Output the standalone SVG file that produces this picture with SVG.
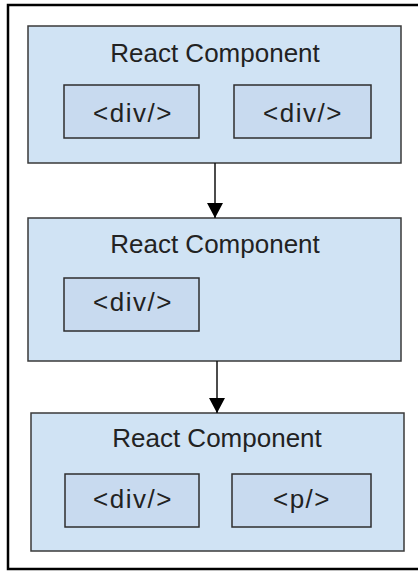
<svg xmlns="http://www.w3.org/2000/svg" width="418" height="571" viewBox="0 0 418 571">
<style>
.comp{fill:#d0e3f4;stroke:#3a3a3a;stroke-width:1.5}
.el{fill:#c8daef;stroke:#2e2e2e;stroke-width:1.5}
.title{font-family:"Liberation Sans",Arial,sans-serif;font-size:26px;fill:#222;text-anchor:middle}
.lbl{font-family:"Liberation Sans",Arial,sans-serif;font-size:26px;fill:#222;text-anchor:middle;letter-spacing:1.5px}
.conn{stroke:#111;stroke-width:1.5;fill:none}
</style>
<defs>
<marker id="ah" viewBox="0 0 15 16" refX="15" refY="8" markerWidth="15" markerHeight="16" markerUnits="userSpaceOnUse" orient="auto">
<path d="M0,0 L15,8 L0,16 Z" fill="#000"/>
</marker>
</defs>
<rect x="0" y="0" width="418" height="571" fill="#fff"/>
<path d="M430,5 L8,5 L8,569 L430,569" fill="none" stroke="#000" stroke-width="2.5"/>
<g id="comp1">
<rect class="comp" x="28" y="26" width="373" height="137"/>
<text class="title" x="215" y="62">React Component</text>
<g id="comp1-div1"><rect class="el" x="64" y="85" width="135" height="53"/><text class="lbl" x="133" y="122">&lt;div/&gt;</text></g>
<g id="comp1-div2"><rect class="el" x="234" y="85" width="137" height="53"/><text class="lbl" x="303" y="122">&lt;div/&gt;</text></g>
</g>
<g id="comp2">
<rect class="comp" x="28" y="218" width="373" height="143"/>
<text class="title" x="215" y="253">React Component</text>
<g id="comp2-div1"><rect class="el" x="64" y="278" width="135" height="53"/><text class="lbl" x="133" y="311">&lt;div/&gt;</text></g>
</g>
<g id="comp3">
<rect class="comp" x="31" y="413" width="373" height="138"/>
<text class="title" x="217" y="447">React Component</text>
<g id="comp3-div1"><rect class="el" x="65" y="474" width="134" height="53"/><text class="lbl" x="133" y="508">&lt;div/&gt;</text></g>
<g id="comp3-p1"><rect class="el" x="232" y="474" width="139" height="53"/><text class="lbl" x="302" y="508">&lt;p/&gt;</text></g>
</g>
<g id="connectors">
<path class="conn" d="M215,163 L215,218" marker-end="url(#ah)"/>
<path class="conn" d="M217,361 L217,413" marker-end="url(#ah)"/>
</g>
</svg>
